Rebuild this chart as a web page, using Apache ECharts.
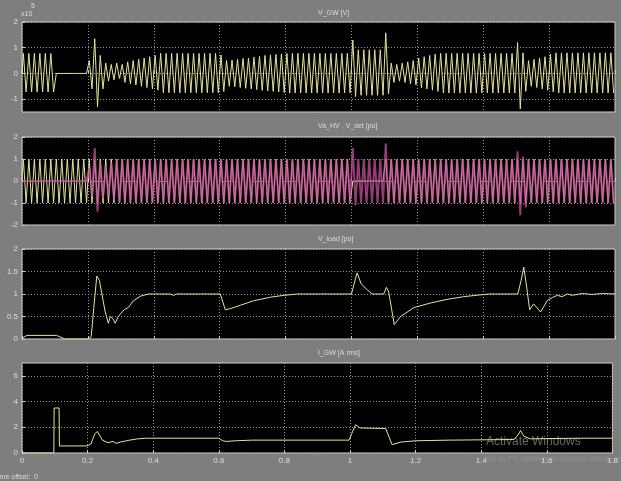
<!DOCTYPE html>
<html>
<head>
<meta charset="utf-8">
<script src="https://cdn.jsdelivr.net/npm/echarts@6/dist/echarts.min.js"></script>
<style>
html,body{margin:0;padding:0;background:#7e7e7e;}
#c{width:621px;height:481px;}
</style>
</head>
<body>
<div id="c"></div>
<script>
// ---- data ----
const timeTicks = [0, 0.2, 0.4, 0.6, 0.8, 1, 1.2, 1.4, 1.6, 1.8];
const titles = ['V_GW [V]', 'Va_HV , V_det [pu]', 'V_load [pu]', 'I_GW [A rms]'];
const yTicks1 = [-1, 0, 1, 2];
const yTicks2 = [-2, -1, 0, 1, 2];
const yTicks3 = [0, 0.5, 1, 1.5, 2];
const yTicks4 = [0, 2, 4, 6];
const cyclePeriod = 1 / 60; // one cycle of the 60 Hz waveforms

// V_GW (x1e5): positive / negative peak of each 60 Hz cycle
const gwPos = [0.78,0.78,0.78,0.78,0.78,0.78, 0,0,0,0,0,0,
  0.5,1.35,0.7,0.4,0.35,0.4,0.35,0.45,0.5,0.55,0.6,0.65,0.7,
  0.78,0.78,0.78,0.78,0.78,0.78,0.78,0.78,0.78,0.78,0.78,
  0.72,0.5,0.52,0.55,0.58,0.6,0.63,0.66,0.7,0.72,0.74,0.76,
  0.78,0.78,0.78,0.78,0.78,0.78,0.78,0.78,0.78,0.78,0.78,0.78,
  1.3,0.92,0.92,0.92,0.92,0.92,
  1.58,0.4,0.35,0.4,0.45,0.5,0.6,0.65,0.7,0.75,
  0.78,0.78,0.78,0.78,0.78,0.78,0.78,0.78,0.78,0.78,0.78,0.78,0.78,0.78,
  1.2,0.8,0.5,0.55,0.6,0.65,0.75,
  0.8,0.8,0.8,0.8,0.8,0.8,0.8,0.8,0.8,0.8,0.8];
const gwNeg = [-0.72,-0.72,-0.72,-0.72,-0.72,-0.72, 0,0,0,0,0,0,
  -0.6,-1.3,-0.6,-0.3,-0.25,-0.2,-0.35,-0.4,-0.45,-0.5,-0.55,-0.6,-0.65,
  -0.75,-0.75,-0.75,-0.75,-0.75,-0.75,-0.75,-0.75,-0.75,-0.75,-0.75,
  -0.7,-0.5,-0.52,-0.55,-0.58,-0.6,-0.63,-0.66,-0.68,-0.7,-0.72,-0.74,
  -0.76,-0.76,-0.76,-0.76,-0.76,-0.76,-0.76,-0.76,-0.76,-0.76,-0.76,-0.76,
  -0.9,-0.85,-0.85,-0.85,-0.85,-0.85,
  -0.8,-0.35,-0.3,-0.35,-0.4,-0.45,-0.55,-0.6,-0.65,-0.7,
  -0.76,-0.76,-0.76,-0.76,-0.76,-0.76,-0.76,-0.76,-0.76,-0.76,-0.76,-0.76,-0.76,-0.76,
  -1.38,-0.7,-0.5,-0.55,-0.6,-0.65,-0.72,
  -0.76,-0.76,-0.76,-0.76,-0.76,-0.76,-0.76,-0.76,-0.76,-0.76,-0.76];

// Va_HV (pu): amplitude of each cycle (symmetric)
const vaAmp = [1,1,1,1,1,1,1,1,1,1,1,1,1,1,1,1,1,1,1,1,
  1,1,1,1,1,1,1,1,1,1,1,1,1,1,1,1,1,1,1,1,
  1,1,1,1,1,1,1,1,1,1,1,1,1,1,1,1,1,1,1,1,
  0,0,0,0,0,0,
  1,1,1,1,1,1,1,1,1,1,1,1,1,1,1,1,1,1,1,1,
  1,1,1,1,1,1,1,1,1,1,1,1,1,1,1,1,1,1,1,1,1,1];
// V_det (pu): positive / negative peak of each cycle
const detPos = [0,0,0,0,0,0,0,0,0,0,0,0,
  0.6,1.5,0.9,0.7,0.85,
  1,1,1,1,1,1,1,1,1,1,1,1,1,1,1,1,1,1,1,1,1,1,1,1,1,1,1,1,1,1,1,1,1,1,1,1,1,1,1,1,1,1,1,
  1.5,1,1,1,1,1,1.7,
  1,1,1,1,1,1,1,1,1,1,1,1,1,1,1,1,1,1,1,1,1,1,1,
  1.35,1.1,
  1,1,1,1,1,1,1,1,1,1,1,1,1,1,1,1];
const detNeg = [0,0,0,0,0,0,0,0,0,0,0,0,
  -0.7,-1.4,-0.8,-0.7,-0.85,
  -1,-1,-1,-1,-1,-1,-1,-1,-1,-1,-1,-1,-1,-1,-1,-1,-1,-1,-1,-1,-1,-1,-1,-1,-1,-1,-1,-1,-1,-1,-1,-1,-1,-1,-1,-1,-1,-1,-1,-1,-1,-1,-1,
  -1.1,-1,-1,-1,-1,-1,-1.05,
  -1,-1,-1,-1,-1,-1,-1,-1,-1,-1,-1,-1,-1,-1,-1,-1,-1,-1,-1,-1,-1,-1,-1,
  -1.55,-1.2,
  -1,-1,-1,-1,-1,-1,-1,-1,-1,-1,-1,-1,-1,-1,-1,-1];

// V_load (pu)
const tLoad = [0,0.015,0.105,0.13,0.2,0.21,0.218,0.227,0.235,0.252,0.262,0.268,0.276,0.283,0.292,
  0.31,0.323,0.338,0.359,0.384,0.45,0.46,0.47,0.602,0.617,0.63,0.663,0.703,0.755,0.795,0.835,
  1.0,1.017,1.03,1.05,1.063,1.098,1.106,1.113,1.13,1.149,1.19,1.24,1.29,1.34,1.39,1.42,
  1.505,1.515,1.523,1.53,1.541,1.553,1.574,1.595,1.61,1.625,1.64,1.655,1.67,1.7,1.73,1.76,1.8];
const vLoad = [0.02,0.08,0.08,0.0,0.0,0.05,0.7,1.4,1.3,0.62,0.35,0.5,0.45,0.35,0.5,
  0.65,0.7,0.85,0.95,1.0,1.0,0.97,1.0,1.0,0.65,0.67,0.75,0.85,0.93,0.97,1.0,
  1.0,1.47,1.22,1.08,1.0,1.0,1.15,1.05,0.32,0.5,0.7,0.8,0.88,0.94,0.98,1.0,
  1.0,1.3,1.6,1.25,0.65,0.78,0.6,0.86,0.92,0.97,0.94,1.0,0.97,1.01,0.99,1.01,1.0];

// I_GW (A rms)
const tIgw = [0,0.097,0.098,0.113,0.114,0.198,0.21,0.222,0.23,0.245,0.262,0.277,0.287,0.3,0.328,
  0.353,0.379,0.6,0.612,0.623,0.65,0.7,0.997,1.005,1.017,1.03,1.109,1.128,1.155,1.2,
  1.3,1.5,1.512,1.52,1.53,1.55,1.6,1.7,1.8];
const vIgw = [0,0,3.5,3.5,0.55,0.55,0.7,1.5,1.67,1.0,0.8,0.9,0.75,0.85,1.0,
  1.1,1.15,1.15,0.95,0.9,0.95,1.0,1.0,1.5,2.2,1.95,1.9,0.65,0.85,0.95,
  1.0,1.05,1.4,1.75,1.3,1.1,1.12,1.15,1.15];

// ---- build ----
function wave(pos, neg) {
  const out = [[0, 0]];
  for (let k = 0; k < pos.length; k++) {
    out.push([(k + 0.25) * cyclePeriod, pos[k]]);
    out.push([(k + 0.75) * cyclePeriod, neg[k]]);
  }
  return out;
}
function zip(t, v) { return t.map((x, i) => [x, v[i]]); }

const YEL = '#e4e49a';
const MAG = '#c4509c';
const LBL = '#dedede';
const grids = [
  {left: 22, top: 22, width: 593, height: 90},
  {left: 22, top: 137, width: 593, height: 88},
  {left: 22, top: 249, width: 593, height: 90},
  {left: 22, top: 363, width: 593, height: 90}
].map(g => Object.assign(g, {show: true, backgroundColor: '#000', borderColor: '#d0d0d0', borderWidth: 1}));

const yRanges = [[-1.5, 2, yTicks1], [-2, 2, yTicks2], [0, 2, yTicks3], [0, 7, yTicks4]];

const xAxis = [], yAxis = [];
grids.forEach((g, i) => {
  xAxis.push({
    type: 'value', gridIndex: i, min: 0, max: 1.8, interval: 0.2,
    axisLine: {show: false},
    axisTick: {show: true, inside: true, length: 3, lineStyle: {color: '#d0d0d0'}},
    axisLabel: {show: i === 3, color: LBL, fontSize: 8, fontFamily: 'Liberation Sans', margin: 4,
      customValues: timeTicks, formatter: v => String(+v.toFixed(1))},
    splitLine: {show: true, lineStyle: {color: '#9a9a9a', type: [1, 2], width: 1}}
  });
  const [mn, mx, tk] = yRanges[i];
  yAxis.push({
    type: 'value', gridIndex: i, min: mn, max: mx,
    axisLine: {show: false},
    axisTick: {show: true, inside: true, length: 3, customValues: tk, lineStyle: {color: '#d0d0d0'}},
    axisLabel: {show: true, color: LBL, fontSize: 8, fontFamily: 'Liberation Sans', margin: 4, customValues: tk},
    splitLine: {show: true, lineStyle: {color: '#9a9a9a', type: [1, 2], width: 1}}
  });
});

const series = [
  {type: 'line', xAxisIndex: 0, yAxisIndex: 0, data: wave(gwPos, gwNeg), color: YEL},
  {type: 'line', xAxisIndex: 1, yAxisIndex: 1, data: wave(vaAmp, vaAmp.map(a => -a)), color: YEL},
  {type: 'line', xAxisIndex: 1, yAxisIndex: 1, data: wave(detPos, detNeg), color: MAG, lineStyle: {opacity: 0.75}},
  {type: 'line', xAxisIndex: 2, yAxisIndex: 2, data: zip(tLoad, vLoad), color: YEL},
  {type: 'line', xAxisIndex: 3, yAxisIndex: 3, data: zip(tIgw, vIgw), color: YEL}
].map(s => Object.assign({showSymbol: false, symbol: 'none', animation: false, silent: true,
  lineStyle: Object.assign({width: 1}, s.lineStyle || {})}, s));

const titleY = [15, 128, 241, 355];
const graphic = titles.map((t, i) => ({
  type: 'text', left: 318, top: titleY[i] - 5,
  style: {text: t, fill: LBL, font: '7px "Liberation Sans"', textAlign: 'center'}
}));
graphic.push(
  {type: 'text', left: 21, top: 11, style: {text: 'x10', fill: LBL, font: '7px "Liberation Sans"'}},
  {type: 'text', left: 31, top: 3, style: {text: '5', fill: LBL, font: '7px "Liberation Sans"'}},
  {type: 'text', left: -6, top: 474, style: {text: 'Time offset:  0', fill: LBL, font: '7px "Liberation Sans"'}},
  {type: 'text', left: 486, top: 436, style: {text: 'Activate Windows', fill: 'rgba(190,190,190,0.55)', font: '12px "Liberation Sans"'}},
  {type: 'text', left: 486, top: 455, style: {text: 'Go to PC settings to activate Windows.', fill: 'rgba(170,170,170,0.5)', font: '8px "Liberation Sans"'}}
);

const chart = echarts.init(document.getElementById('c'), null, {renderer: 'canvas'});
chart.setOption({
  backgroundColor: '#7e7e7e',
  animation: false,
  grid: grids, xAxis, yAxis, series, graphic
});
</script>
</body>
</html>
